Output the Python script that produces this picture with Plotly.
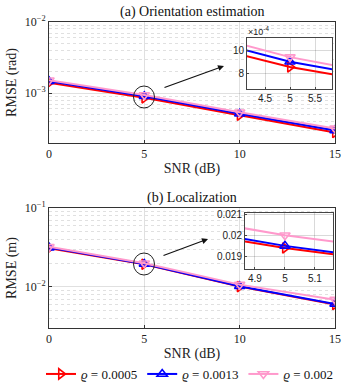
import plotly.graph_objects as go

snr = [0, 5, 10, 15]
labels = ["<i>ϱ</i> = 0.0005", "<i>ϱ</i> = 0.0013", "<i>ϱ</i> = 0.002"]
colors = ["#ff0000", "#0000ff", "#ff99cc"]
symbols = ["triangle-right-open", "triangle-up-open", "triangle-down-open"]

# (a) orientation RMSE (rad)
rmse_orient_0005 = [1.40e-3, 8.6e-4, 4.9e-4, 2.8e-4]
rmse_orient_0013 = [1.47e-3, 9.05e-4, 5.15e-4, 3.0e-4]
rmse_orient_002 = [1.52e-3, 9.45e-4, 5.4e-4, 3.2e-4]

# (b) localization RMSE (m)
rmse_loc_0005 = [0.0310, 0.0194, 0.0101, 0.0060]
rmse_loc_0013 = [0.0315, 0.0195, 0.0102, 0.0061]
rmse_loc_002 = [0.0322, 0.0200, 0.0107, 0.0069]

orient = [rmse_orient_0005, rmse_orient_0013, rmse_orient_002]
loc = [rmse_loc_0005, rmse_loc_0013, rmse_loc_002]

serif = "Liberation Serif"
sans = "Liberation Sans"

W, H = 353, 391
# helpers: pixel position in the page -> paper fraction
def fx(p): return p / W
def fy(p): return 1 - p / H

fig = go.Figure()

# main plots + insets: (xaxis, yaxis, data, legend)
panels = [("x", "y", orient, True), ("x2", "y2", orient, False),
          ("x3", "y3", loc, False), ("x4", "y4", loc, False)]
for xa, ya, data, show in panels:
	for i in range(3):
		fig.add_trace(go.Scatter(
			x=snr, y=data[i], xaxis=xa, yaxis=ya, name=labels[i],
			mode="lines+markers", showlegend=show,
			line=dict(color=colors[i], width=2),
			marker=dict(symbol=symbols[i], size=9, color=colors[i],
						line=dict(width=1.6, color=colors[i])),
		))

grid = "rgba(0,0,0,0.12)"
minor_grid = dict(showgrid=True, gridcolor="rgba(0,0,0,0.12)", griddash="dot", gridwidth=1, ticks="")

def main_x(domain, anchor):
	return dict(domain=domain, anchor=anchor, range=[0, 15], tickvals=[0, 5, 10, 15],
				automargin=False,
				showline=True, mirror=True, linecolor="#333", linewidth=1,
				ticks="inside", ticklen=3, tickcolor="#333",
				showgrid=True, gridcolor=grid, zeroline=False,
				tickfont=dict(family=serif, size=12, color="#222"),
				title=dict(text="SNR (dB)", font=dict(family=serif, size=14, color="#222"), standoff=2))

def main_y(domain, anchor, rng, decades, title):
	minors = [m * d for d in [10 ** k for k in range(-5, 0)] for m in range(2, 10)]
	return dict(domain=domain, anchor=anchor, type="log", range=rng,
				automargin=False,
				tickvals=[10 ** k for k in decades],
				ticktext=["10<sup>−%d</sup>" % -k for k in decades],
				showline=True, mirror=True, linecolor="#333", linewidth=1,
				ticks="inside", ticklen=3, tickcolor="#333",
				showgrid=True, gridcolor=grid, zeroline=False,
				minor=dict(tickvals=minors, **minor_grid),
				tickfont=dict(family=serif, size=12, color="#222"),
				title=dict(text=title, font=dict(family=serif, size=14, color="#222"), standoff=4))

def inset_ax(domain, anchor, rng, vals, text):
	return dict(domain=domain, anchor=anchor, range=rng, tickvals=vals, ticktext=text,
				automargin=False,
				showline=True, mirror=True, linecolor="#444", linewidth=1,
				ticks="inside", ticklen=2, tickcolor="#444",
				showgrid=True, gridcolor="rgba(0,0,0,0.15)", zeroline=False,
				tickfont=dict(family=sans, size=10, color="#222"))

fig.update_layout(
	width=W, height=H,
	margin=dict(l=0, r=0, t=0, b=0, autoexpand=False),
	paper_bgcolor="white", plot_bgcolor="white",
	xaxis=main_x([fx(49), fx(335)], "y"),
	yaxis=main_y([fy(143), fy(22)], "x", [-3.7, -2], [-3, -2], "RMSE (rad)"),
	xaxis2=inset_ax([fx(247), fx(332)], "y2", [4.14, 5.84], [4.5, 5, 5.5], ["4.5", "5", "5.5"]),
	yaxis2=inset_ax([fy(89), fy(38)], "x2", [6.7e-4, 11.1e-4], [8e-4, 10e-4], ["8", "10"]),
	xaxis3=main_x([fx(49), fx(335)], "y3"),
	yaxis3=main_y([fy(328), fy(208)], "x3", [-2.52, -1], [-2, -1], "RMSE (m)"),
	xaxis4=inset_ax([fx(245), fx(333)], "y4", [4.867, 5.16], [4.9, 5, 5.1], ["4.9", "5", "5.1"]),
	yaxis4=inset_ax([fy(269), fy(213)], "x4", [0.01841, 0.02105], [0.019, 0.020, 0.021], ["0.019", "0.02", "0.021"]),
	legend=dict(orientation="h", x=fx(190), xanchor="center", y=fy(374), yanchor="middle",
				font=dict(family=serif, size=13, color="#111"), itemwidth=30,
				tracegroupgap=0, bgcolor="rgba(0,0,0,0)"),
	showlegend=True,
)

# panel titles
fig.add_annotation(text="(a) Orientation estimation", xref="paper", yref="paper",
				   x=fx(192), y=fy(12), xanchor="center", yanchor="middle", showarrow=False,
				   font=dict(family=serif, size=14, color="#111"))
fig.add_annotation(text="(b) Localization", xref="paper", yref="paper",
				   x=fx(192), y=fy(198), xanchor="center", yanchor="middle", showarrow=False,
				   font=dict(family=serif, size=14, color="#111"))
fig.add_annotation(text="×10<sup>-4</sup>", xref="paper", yref="paper",
				   x=fx(246), y=fy(39), xanchor="left", yanchor="bottom", showarrow=False,
				   font=dict(family=sans, size=9, color="#222"))

# zoom circles and arrows
fig.add_shape(type="circle", xref="paper", yref="paper",
			  x0=fx(133.5), x1=fx(154.5), y0=fy(108), y1=fy(86), line=dict(color="#222", width=1))
fig.add_shape(type="circle", xref="paper", yref="paper",
			  x0=fx(133.5), x1=fx(154.5), y0=fy(275), y1=fy(253), line=dict(color="#222", width=1))
fig.add_annotation(x=fx(224), y=fy(66), xref="paper", yref="paper", text="",
				   showarrow=True, ax=-61, ay=22, arrowhead=2, arrowsize=1, arrowwidth=1.2, arrowcolor="#111")
fig.add_annotation(x=fx(208), y=fy(239), xref="paper", yref="paper", text="",
				   showarrow=True, ax=-46, ay=17, arrowhead=2, arrowsize=1, arrowwidth=1.2, arrowcolor="#111")

# drop the default 8px body margin so the figure fills the window
fig.write_html("out.html", config={"displayModeBar": False},
			   post_script="document.body.style.margin='0px';")
